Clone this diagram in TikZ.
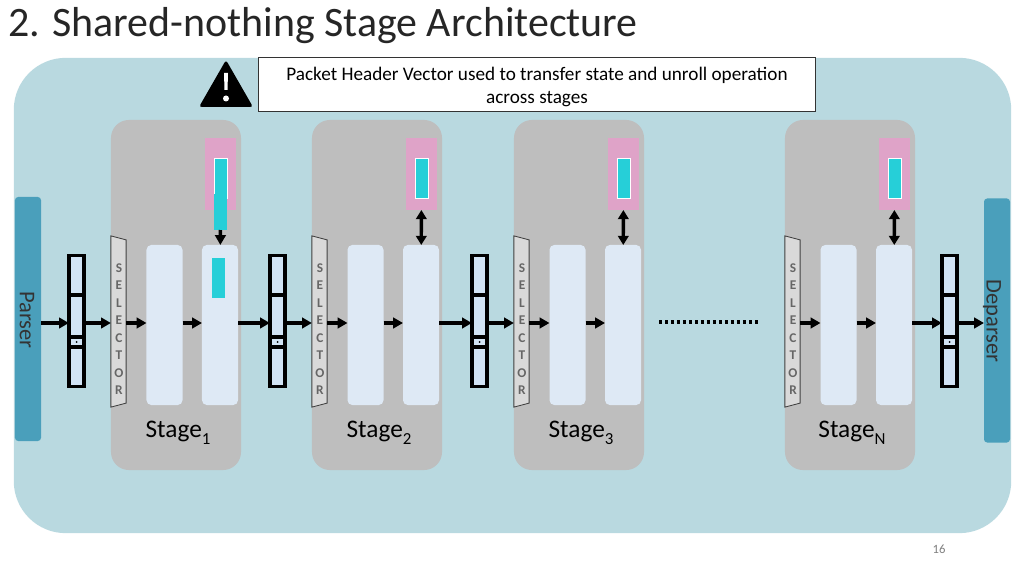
\documentclass[tikz,border=0pt]{standalone}
\usepackage{fontspec}
\setmainfont{Carlito}
\usepackage{amsmath}
\usetikzlibrary{arrows.meta}
\definecolor{slidebg}{HTML}{B9D9E0}
\definecolor{stagegray}{HTML}{BEBEBE}
\definecolor{blockblue}{HTML}{DEE9F5}
\definecolor{phvblue}{HTML}{D2E4F5}
\definecolor{pinkmem}{HTML}{DFA3C8}
\definecolor{cyanstate}{HTML}{26CFD8}
\definecolor{parserblue}{HTML}{4A9FBB}
\tikzset{
  stagebox/.style={fill=stagegray,rounded corners=.45cm,minimum width=3.25cm,minimum height=8.75cm},
  blockbox/.style={fill=blockblue,rounded corners=.12cm,minimum width=.9cm,minimum height=4cm},
  membox/.style={fill=pinkmem,minimum width=.78cm,minimum height=1.8cm},
  statebox/.style={fill=cyanstate,draw=white,line width=.5pt,minimum width=.33cm,minimum height=1cm},
  selbox/.style={minimum width=.38cm,minimum height=4.28cm,inner sep=0pt},
  seltext/.style={align=center,text=black!60,inner sep=0pt,font=\fontsize{9.5}{12.45}\selectfont\bfseries},
  phvbox/.style={draw=black,line width=2.5pt,fill=phvblue,minimum width=.38cm,minimum height=3.28cm},
  endbox/.style={fill=parserblue,rounded corners=.08cm,minimum width=.65cm,minimum height=6.1cm},
  endtext/.style={rotate=-90,text=black!80,font=\fontsize{16}{18}\selectfont},
  flow/.style={-{Triangle[length=7pt,width=7.5pt]},line width=2.4pt},
  twoway/.style={{Triangle[length=6.5pt,width=7.5pt]}-{Triangle[length=6.5pt,width=7.5pt]},line width=2.4pt},
  phvline/.style={line width=2.2pt},
  every node/.style={outer sep=0pt}
}
\begin{document}
\begin{tikzpicture}[x=.025cm,y=-.025cm]
  \useasboundingbox (0,0) rectangle (1024,576);
  \fill[white] (0,0) rectangle (1024,576);
  \node[anchor=west,inner sep=0pt,font=\fontsize{29.8}{32}\selectfont,text=black!85] (title) at (8,26) {2. Shared-nothing Stage Architecture};
  \node[fill=slidebg,rounded corners=1.3cm,minimum width=24.93cm,minimum height=11.88cm] (slide) at (512.5,295.5) {};
  \node[fill=white,draw=black!80,line width=.7pt,minimum width=13.9cm,minimum height=1.17cm,align=center,
    font=\fontsize{13.65}{17}\selectfont] (note) at (537,84.5) {\rule{0pt}{13pt}Packet Header Vector used to transfer state and unroll operation\\across stages};
  % warning sign
  \fill[black,rounded corners=2pt] (226,60) -- (253,107) -- (199,107) -- cycle;
  \fill[white] (224,73) -- (228,73) -- (227.5,90) -- (224.5,90) -- cycle;
  \fill[white] (226,98.5) circle (3);
  \node[endbox] (parser) at (28,319) {};
  \node[endtext] (parsertxt) at (27,320) {Parser};
  \node[endbox] (deparser) at (997,320.5) {};
  \node[endtext] (deparsertxt) at (992,321) {Deparser};
  \coordinate (flowy) at (0,323);
  \foreach \n/\o in {1/0,2/201,3/403,N/674}{
    \node[stagebox] (stage\n) at (176+\o,295) {};
    \node[membox] (mem\n) at (220.5+\o,174) {};
    \node[statebox] (state\n) at (220.5+\o,178) {};
    \node[blockbox] (a\n) at (164.5+\o,325) {};
    \node[blockbox] (b\n) at (220+\o,325) {};
    \node[selbox] (sel\n) at (118.5+\o,321.5) {};
    \draw[fill=black!15,draw=black!75,line width=.6pt] (sel\n.north west) -- ([yshift=-.1cm]sel\n.north east)
      -- ([yshift=.1cm]sel\n.south east) -- (sel\n.south west) -- cycle;
    \node[seltext] (seltxt\n) at (119+\o,329) {S\\E\\L\\E\\C\\T\\O\\R};
    \node[font=\fontsize{18}{20}\selectfont] (label\n) at (178+\o,433) {Stage\raisebox{-5pt}{\fontsize{12}{13}\selectfont\n}};
    \draw[flow] (sel\n.east |- flowy) -- (a\n.west |- flowy);
    \draw[flow] (a\n.east |- flowy) -- (b\n.west |- flowy);
  }
  % stage 1 has its state moved down
  \node[fill=cyanstate,minimum width=.32cm,minimum height=.9cm] (move1) at (220.5,212) {};
  \node[fill=cyanstate,minimum width=.33cm,minimum height=1cm] (copy1) at (218.5,278) {};
  \draw[flow] (move1) -- (b1);
  \foreach \n in {2,3,N}
    \draw[twoway] (mem\n) -- (b\n);
  \foreach \n/\x in {0/76.5,1/277.5,2/479.5,N/949.5}{
    \node[phvbox] (phv\n) at (\x,321) {};
    \draw[phvline] (phv\n.west |- 0,295) -- (phv\n.east |- 0,295);
    \draw[phvline] (phv\n.west |- 0,337) -- (phv\n.east |- 0,337);
    \draw[phvline] (phv\n.west |- 0,347) -- (phv\n.east |- 0,347);
    \fill (\x,342) circle (1);
  }
  \foreach \from/\to in {parser/phv0,phv0/sel1,b1/phv1,phv1/sel2,b2/phv2,phv2/sel3,bN/phvN,phvN/deparser}
    \draw[flow] (\from.east |- flowy) -- (\to.west |- flowy);
  \coordinate (dotsl) at (659,322);
  \coordinate (dotsr) at (758,322);
  \draw[line width=2.2pt,dash pattern=on 2.13pt off 2.13pt] (dotsl) -- (dotsr);
  \node[text=black!50,font=\fontsize{9}{10}\selectfont] (page) at (939,549) {16};
\end{tikzpicture}
\end{document}
